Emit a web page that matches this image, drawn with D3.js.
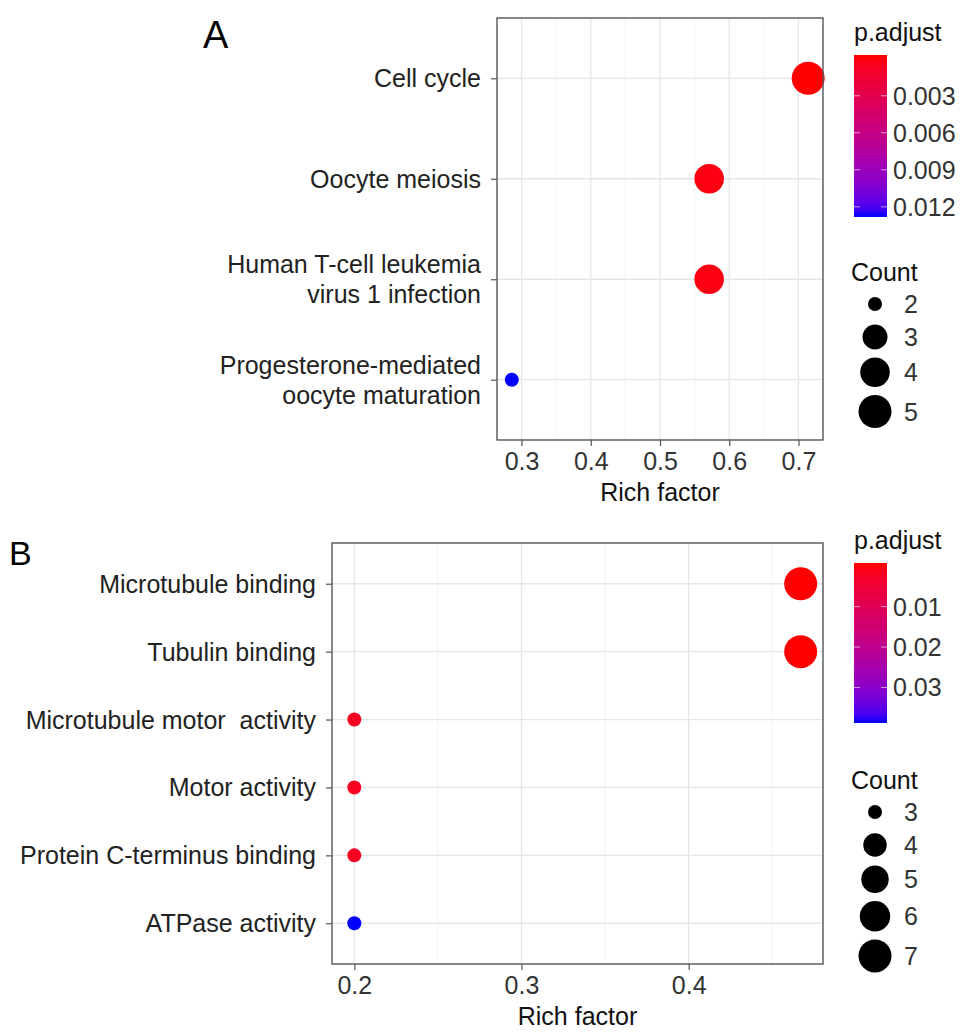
<!DOCTYPE html>
<html>
<head>
<meta charset="utf-8">
<script src="https://cdn.jsdelivr.net/npm/d3@7"></script>
<style>
  body { margin: 0; background: #fff; }
  svg { font-family: "Liberation Sans", Arial, Helvetica, sans-serif; }
</style>
</head>
<body>
<div id="vis"></div>
<script>
const WIDTH = 969;
const HEIGHT = 1035;

// Panel A (KEGG)
const aTerms = ["Cell cycle", "Oocyte meiosis", "Human T-cell leukemia\nvirus 1 infection", "Progesterone-mediated\noocyte maturation"];
const aRich = [0.714, 0.571, 0.571, 0.286];
const aCount = [5, 4, 4, 2];
const aPadj = [0.00002, 0.0004, 0.0004, 0.0125];
const aXTicks = [0.3, 0.4, 0.5, 0.6, 0.7];
const aXMinor = [0.35, 0.45, 0.55, 0.65];
const aColorTicks = [0.003, 0.006, 0.009, 0.012];
const aCountTicks = [2, 3, 4, 5];

// Panel B (GO)
const bTerms = ["Microtubule binding", "Tubulin binding", "Microtubule motor  activity", "Motor activity", "Protein C-terminus binding", "ATPase activity"];
const bRich = [0.467, 0.467, 0.2, 0.2, 0.2, 0.2];
const bCount = [7, 7, 3, 3, 3, 3];
const bPadj = [0.0002, 0.0002, 0.003, 0.003, 0.003, 0.0378];
const bXTicks = [0.2, 0.3, 0.4];
const bXMinor = [0.25, 0.35, 0.45];
const bColorTicks = [0.01, 0.02, 0.03];
const bCountTicks = [3, 4, 5, 6, 7];

const R_RANGE = [7, 16.5];
const FONT = 25;

const svg = d3.select("#vis")
  .append("svg")
    .attr("width", WIDTH)
    .attr("height", HEIGHT);

const defs = svg.append("defs");

function drawPanel(p) {
  const g = svg.append("g");
  const box = p.box;

  // x scale with 5% expansion like ggplot
  const ext = d3.extent(p.rich);
  const pad = (ext[1] - ext[0]) * 0.05;
  const X = d3.scaleLinear()
    .domain([ext[0] - pad, ext[1] + pad])
    .range([box.x0, box.x1]);

  const Y = d3.scalePoint()
    .domain(p.terms)
    .range([box.y0, box.y1])
    .padding(0.6);

  const C = d3.scaleLinear()
    .domain(d3.extent(p.padj))
    .range(["red", "blue"])
    .interpolate(d3.interpolateLab);

  const cExt = d3.extent(p.count);
  const norm = d3.scaleLinear().domain(cExt).range([0, 1]);
  const rLin = d3.scaleLinear().domain([0, 1]).range(R_RANGE);
  const R = (c) => rLin(Math.sqrt(norm(c)));

  // background grid
  g.selectAll(".minor")
    .data(p.xMinor.filter(v => v > X.domain()[0] && v < X.domain()[1]))
    .enter()
    .append("line")
      .attr("x1", d => X(d)).attr("x2", d => X(d))
      .attr("y1", box.y0).attr("y2", box.y1)
      .attr("stroke", "#f0f0f0").attr("stroke-width", 0.8);

  g.selectAll(".vmajor")
    .data(p.xTicks)
    .enter()
    .append("line")
      .attr("x1", d => X(d)).attr("x2", d => X(d))
      .attr("y1", box.y0).attr("y2", box.y1)
      .attr("stroke", "#e6e6e6").attr("stroke-width", 1.3);

  g.selectAll(".hmajor")
    .data(p.terms)
    .enter()
    .append("line")
      .attr("x1", box.x0).attr("x2", box.x1)
      .attr("y1", d => Y(d)).attr("y2", d => Y(d))
      .attr("stroke", "#e6e6e6").attr("stroke-width", 1.3);

  // points
  g.selectAll(".pt")
    .data(p.terms.map((t, i) => ({t: t, x: p.rich[i], c: p.count[i], q: p.padj[i]})))
    .enter()
    .append("circle")
      .attr("cx", d => X(d.x))
      .attr("cy", d => Y(d.t))
      .attr("r", d => R(d.c))
      .attr("fill", d => C(d.q));

  // panel border
  g.append("rect")
    .attr("x", box.x0).attr("y", box.y0)
    .attr("width", box.x1 - box.x0).attr("height", box.y1 - box.y0)
    .attr("fill", "none").attr("stroke", "#555").attr("stroke-width", 1.4);

  // x axis
  const xAxis = g.append("g")
    .attr("transform", "translate(0," + box.y1 + ")")
    .call(d3.axisBottom(X).tickValues(p.xTicks).tickFormat(d3.format(".1f")).tickSize(6).tickPadding(6));
  xAxis.select(".domain").remove();
  xAxis.selectAll(".tick line").attr("stroke", "#555").attr("stroke-width", 1.2);
  xAxis.selectAll(".tick text")
    .attr("font-size", FONT).attr("fill", "#333")
    .attr("font-family", "Liberation Sans, Arial, sans-serif");

  g.append("text")
    .attr("x", (box.x0 + box.x1) / 2)
    .attr("y", box.y1 + 61)
    .attr("text-anchor", "middle")
    .attr("font-size", FONT)
    .attr("fill", "#111")
    .text("Rich factor");

  // y axis
  const yAxis = g.append("g")
    .attr("transform", "translate(" + box.x0 + ",0)")
    .call(d3.axisLeft(Y).tickSize(6).tickFormat(""));
  yAxis.select(".domain").remove();
  yAxis.selectAll(".tick line").attr("stroke", "#555").attr("stroke-width", 1.2);

  g.selectAll(".ylab")
    .data(p.terms)
    .enter()
    .append("text")
      .attr("x", box.x0 - 16)
      .attr("y", d => Y(d))
      .attr("text-anchor", "end")
      .attr("font-size", FONT)
      .attr("fill", "#222")
      .style("white-space", "pre")
      .each(function(d) {
        const lines = d.split("\n");
        const t = d3.select(this);
        lines.forEach((ln, k) => {
          t.append("tspan")
            .attr("x", box.x0 - 16)
            .attr("y", Y(d) + 9 + (k - (lines.length - 1) / 2) * 30)
            .text(ln);
        });
      });

  // panel letter
  g.append("text")
    .attr("x", p.letter.x).attr("y", p.letter.y)
    .attr("font-size", p.letter.size)
    .attr("fill", "#000")
    .text(p.letter.text);

  // colour bar legend
  const cb = p.cbar;
  const gradId = "grad" + p.letter.text;
  const grad = defs.append("linearGradient")
    .attr("id", gradId)
    .attr("x1", 0).attr("x2", 0).attr("y1", 0).attr("y2", 1);
  d3.range(0, 1.0001, 0.05).forEach(f => {
    grad.append("stop")
      .attr("offset", f)
      .attr("stop-color", d3.interpolateLab("red", "blue")(f));
  });

  g.append("text")
    .attr("x", cb.x).attr("y", cb.y0 - 14)
    .attr("font-size", FONT).attr("fill", "#111")
    .text("p.adjust");

  g.append("rect")
    .attr("x", cb.x).attr("y", cb.y0)
    .attr("width", 33).attr("height", cb.y1 - cb.y0)
    .attr("fill", "url(#" + gradId + ")");

  const CB = d3.scaleLinear()
    .domain(C.domain())
    .range([cb.y0 + 4, cb.y1 - 4]);

  const cbTicks = g.selectAll(".cbt")
    .data(p.colorTicks)
    .enter()
    .append("g");
  cbTicks.append("line")
    .attr("x1", cb.x).attr("x2", cb.x + 6)
    .attr("y1", d => CB(d)).attr("y2", d => CB(d))
    .attr("stroke", "#fff").attr("stroke-opacity", 0.6).attr("stroke-width", 1);
  cbTicks.append("line")
    .attr("x1", cb.x + 27).attr("x2", cb.x + 33)
    .attr("y1", d => CB(d)).attr("y2", d => CB(d))
    .attr("stroke", "#fff").attr("stroke-opacity", 0.6).attr("stroke-width", 1);
  cbTicks.append("text")
    .attr("x", cb.x + 39)
    .attr("y", d => CB(d) + 9)
    .attr("font-size", FONT).attr("fill", "#333")
    .text(d => String(d));

  // count legend
  const sl = p.slegend;
  g.append("text")
    .attr("x", cb.x - 3).attr("y", sl.y - 23)
    .attr("font-size", FONT).attr("fill", "#111")
    .text("Count");

  let cy = sl.y;
  const keys = [];
  p.countTicks.forEach((c, i) => {
    if (i > 0) {
      const hPrev = Math.max(33, 2 * R(p.countTicks[i - 1]) + 8);
      const h = Math.max(33, 2 * R(c) + 8);
      cy += (hPrev + h) / 2;
    }
    keys.push({c: c, y: cy});
  });

  const sk = g.selectAll(".sk")
    .data(keys)
    .enter()
    .append("g");
  sk.append("circle")
    .attr("cx", 875).attr("cy", d => d.y)
    .attr("r", d => R(d.c))
    .attr("fill", "#000");
  sk.append("text")
    .attr("x", 904).attr("y", d => d.y + 9)
    .attr("font-size", FONT).attr("fill", "#333")
    .text(d => d.c);
}

drawPanel({
  terms: aTerms, rich: aRich, count: aCount, padj: aPadj,
  xTicks: aXTicks, xMinor: aXMinor, colorTicks: aColorTicks, countTicks: aCountTicks,
  box: {x0: 497, x1: 823, y0: 18, y1: 440},
  letter: {text: "A", x: 203, y: 48, size: 38},
  cbar: {x: 854, y0: 55, y1: 217},
  slegend: {y: 304}
});

drawPanel({
  terms: bTerms, rich: bRich, count: bCount, padj: bPadj,
  xTicks: bXTicks, xMinor: bXMinor, colorTicks: bColorTicks, countTicks: bCountTicks,
  box: {x0: 332, x1: 823, y0: 543, y1: 964},
  letter: {text: "B", x: 9, y: 565, size: 34},
  cbar: {x: 854, y0: 563, y1: 723},
  slegend: {y: 812}
});
</script>
</body>
</html>
